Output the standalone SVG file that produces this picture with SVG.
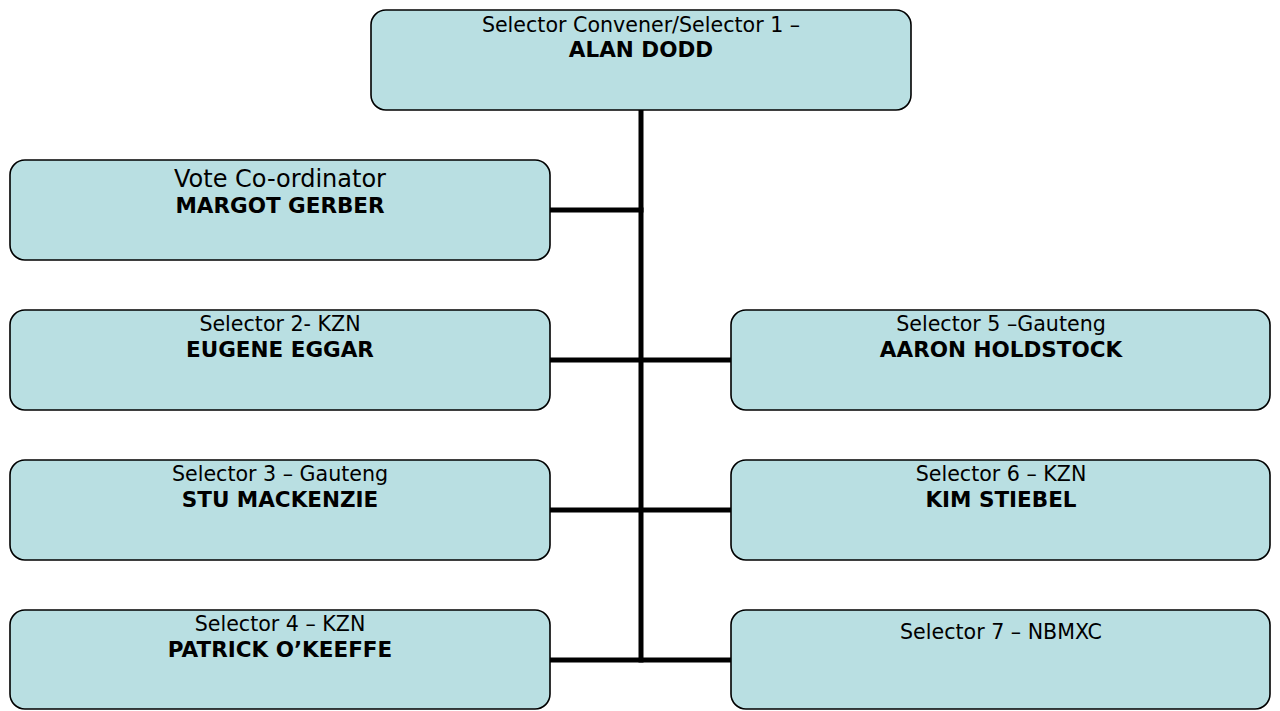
<svg xmlns="http://www.w3.org/2000/svg" width="1280" height="711" viewBox="0 0 1280 711">
<style>
.box{fill:#b9dfe2;stroke:#000;stroke-width:1.6}
.t{font-family:"DejaVu Sans","Liberation Sans",sans-serif;font-size:20.6px;fill:#000;text-anchor:middle}
.b{font-family:"DejaVu Sans","Liberation Sans",sans-serif;font-size:21.5px;font-weight:bold;fill:#000;text-anchor:middle}
.big{font-size:24px}
.c{stroke:#000;stroke-width:5;fill:none}
</style>
<rect width="1280" height="711" fill="#fff"/>
<g id="connectors">
<line class="c" x1="641" y1="110" x2="641" y2="662.5"/>
<line class="c" x1="550" y1="210" x2="643.5" y2="210"/>
<line class="c" x1="550" y1="360" x2="731" y2="360"/>
<line class="c" x1="550" y1="510" x2="731" y2="510"/>
<line class="c" x1="550" y1="660" x2="731" y2="660"/>
</g>
<g id="n-convener">
<rect class="box" x="371" y="10" width="540" height="100" rx="15"/>
<text class="t" x="641" y="32">Selector Convener/Selector 1 –</text>
<text class="b" x="641" y="57">ALAN DODD</text>
</g>
<g id="n-vote">
<rect class="box" x="10" y="160" width="540" height="100" rx="15"/>
<text class="t big" x="280" y="187">Vote Co-ordinator</text>
<text class="b" x="280" y="213">MARGOT GERBER</text>
</g>
<g id="n-sel2">
<rect class="box" x="10" y="310" width="540" height="100" rx="15"/>
<text class="t" x="280" y="331">Selector 2- KZN</text>
<text class="b" x="280" y="357">EUGENE EGGAR</text>
</g>
<g id="n-sel3">
<rect class="box" x="10" y="460" width="540" height="100" rx="15"/>
<text class="t" x="280" y="481">Selector 3 – Gauteng</text>
<text class="b" x="280" y="507">STU MACKENZIE</text>
</g>
<g id="n-sel4">
<rect class="box" x="10" y="610" width="540" height="99" rx="15"/>
<text class="t" x="280" y="631">Selector 4 – KZN</text>
<text class="b" x="280" y="657">PATRICK O’KEEFFE</text>
</g>
<g id="n-sel5">
<rect class="box" x="731" y="310" width="539" height="100" rx="15"/>
<text class="t" x="1001" y="331">Selector 5 –Gauteng</text>
<text class="b" x="1001" y="357">AARON HOLDSTOCK</text>
</g>
<g id="n-sel6">
<rect class="box" x="731" y="460" width="539" height="100" rx="15"/>
<text class="t" x="1001" y="481">Selector 6 – KZN</text>
<text class="b" x="1001" y="507">KIM STIEBEL</text>
</g>
<g id="n-sel7">
<rect class="box" x="731" y="610" width="539" height="99" rx="15"/>
<text class="t" x="1001" y="639">Selector 7 – NBMXC</text>
</g>
</svg>
